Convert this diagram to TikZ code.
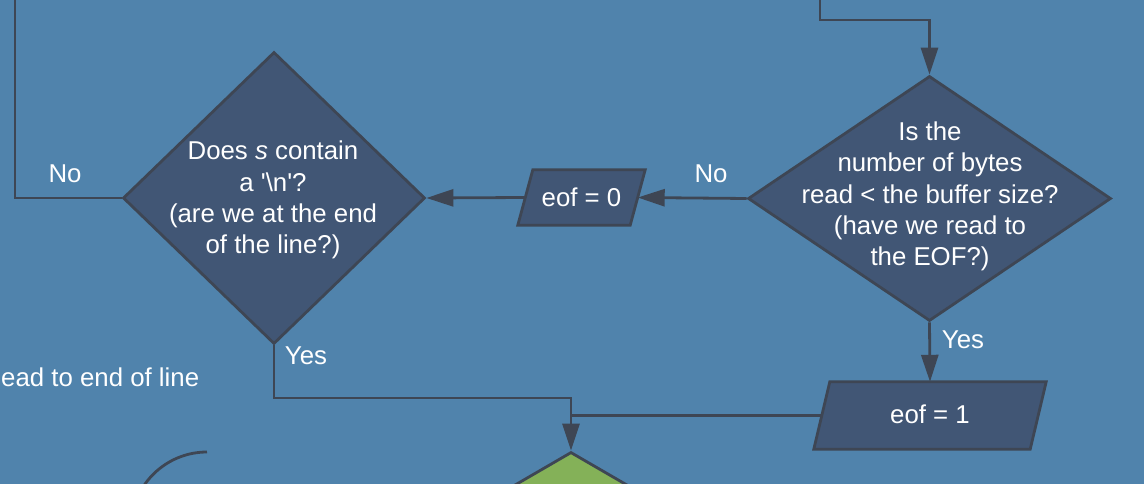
\documentclass[tikz,border=0pt]{standalone}
\usepackage{fontspec}
\setmainfont{Liberation Sans}
\usetikzlibrary{shapes.geometric,arrows.meta}
\definecolor{bgblue}{RGB}{80,131,172}
\definecolor{nodefill}{RGB}{65,86,117}
\definecolor{edgecol}{RGB}{62,70,84}
\definecolor{greenfill}{RGB}{132,177,88}
\begin{document}
\begin{tikzpicture}[x=1pt,y=-1pt,
  lbl/.style={text=white, font=\fontsize{25.8}{31.3}\selectfont, align=center, inner sep=0pt},
  decision/.style={diamond, draw=edgecol, fill=nodefill, line width=2.8pt, inner sep=0pt},
  iobody/.style={rectangle, inner sep=0pt},
  iopath/.style={draw=edgecol, fill=nodefill, line width=2.8pt, line join=miter},
  conn/.style={draw=edgecol, line width=2.8pt},
  arr/.style={conn, -{Triangle[length=27pt,width=17pt]}},
]
\fill[bgblue] (0,0) rectangle (1144,484);
\useasboundingbox (0,0) rectangle (1144,484);
\clip (0,0) rectangle (1144,484);

% decisions
\node[decision, minimum width=302pt, minimum height=292pt] (ld) at (274,198) {};
\node[lbl] (ldt) at (273,200) {Does \textit{s} contain\\a \textquotesingle\textbackslash n\textquotesingle?\\(are we at the end\\of the line?)};
\node[decision, minimum width=363pt, minimum height=245pt] (rd) at (929.5,198.5) {};
\node[lbl] (rdt) at (930,196.5) {Is the\\number of bytes\\read < the buffer size?\\(have we read to\\the EOF?)};

% input/output parallelograms
\node[iobody, minimum width=112pt, minimum height=55pt] (e0) at (581.5,197.5) {};
\draw[iopath] ([xshift=7.5pt]e0.north west) -- ([xshift=7.5pt]e0.north east) -- ([xshift=-7.5pt]e0.south east) -- ([xshift=-7.5pt]e0.south west) -- cycle;
\node[lbl] (e0t) at (e0.center) {eof = 0};
\node[iobody, minimum width=216pt, minimum height=67pt] (e1) at (930,415.5) {};
\draw[iopath] ([xshift=8pt]e1.north west) -- ([xshift=8pt]e1.north east) -- ([xshift=-8pt]e1.south east) -- ([xshift=-8pt]e1.south west) -- cycle;
\node[lbl] (e1t) at ([yshift=1.5pt]e1.center) {eof = 1};

\node[diamond, draw=edgecol, fill=greenfill, line width=2.8pt, inner sep=0pt, minimum width=344pt, minimum height=200pt] (g) at (571,552) {};

% coordinates
\coordinate (tl) at (15,0);
\coordinate (tr) at (820,0);
\coordinate (trbend) at (820,20);
\coordinate (yj) at (571,398);

% connectors
\draw[conn] (ld.west) -| (tl);
\draw[arr] (tr) -- (trbend) -| (rd.north);
\draw[arr] (rd.west) -- (e0.east);
\draw[arr] (e0.west) -- (ld.east);
\draw[arr] (rd.south) -- (e1.north);
\draw[arr] (ld.south) |- (yj) -- (g.north);
\draw[conn] (e1.west) -- (e1.west -| yj);
\draw[conn] (207,452) arc[start angle=-90, end angle=-170, radius=76];

% labels
\node[lbl] (no1) at (65,174) {No};
\node[lbl] (no2) at (711,174) {No};
\node[lbl] (yes1) at (306,356) {Yes};
\node[lbl] (yes2) at (963,340) {Yes};
\node[lbl, anchor=west] (rl) at (1,377) {ead to end of line};
\end{tikzpicture}
\end{document}
